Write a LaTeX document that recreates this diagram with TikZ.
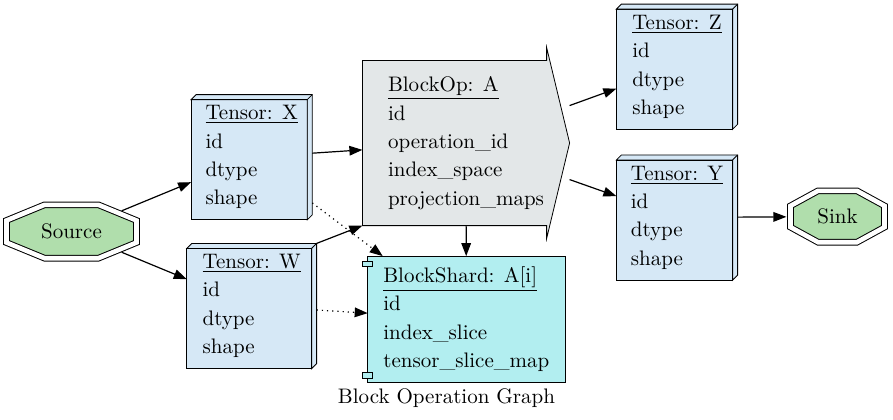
\documentclass[tikz,border=0pt]{standalone}
\usetikzlibrary{shapes.geometric,arrows.meta,positioning,backgrounds}
\definecolor{tensorblue}{RGB}{214,232,246}
\definecolor{opgray}{RGB}{227,231,232}
\definecolor{shardcyan}{RGB}{178,238,240}
\definecolor{termgreen}{RGB}{176,222,172}
\tikzset{record/.style={rectangle,inner sep=0pt,align=left,font=\fontsize{10.5}{14.17}\selectfont},
         tensor node/.style={record,minimum width=60pt,minimum height=62pt},
         op node/.style={record,minimum width=103pt,minimum height=82pt},
         shard node/.style={record,minimum width=98pt,minimum height=62.5pt},
         end node/.style={ellipse,inner sep=0pt,font=\fontsize{10.5}{12}\selectfont},
         octagon/.style={fill=termgreen,draw,double=white,double distance=2.3pt,line width=0.5pt},
         flow/.style={->},
         link/.style={->,dotted},
         graph label/.style={font=\fontsize{10.5}{12}\selectfont}
}

\begin{document}
\begin{tikzpicture}[x=0.5pt,y=-0.5pt,>={Triangle[length=6.5pt,width=4.8pt]},line width=0.6pt]
\useasboundingbox (0,0) rectangle (893,419);

\node[end node,minimum width=68.5pt,minimum height=29.5pt] (src) at (71.5,231.5) {Source};
\node[tensor node] (X) at (251.7,157.2) {\underline{Tensor: X}\\id\\dtype\\shape};
\node[tensor node,minimum width=64.3pt] (W) at (251.7,306) {\underline{Tensor: W}\\id\\dtype\\shape};
\node[op node] (A) at (466,143) {\underline{BlockOp: A}\\id\\operation\_id\\index\_space\\projection\_maps};
\node[shard node] (shard) at (466.3,319.2) {\underline{BlockShard: A[i]}\\id\\index\_slice\\tensor\_slice\_map};
\node[tensor node] (Z) at (677,66.7) {\underline{Tensor: Z}\\id\\dtype\\shape};
\node[tensor node] (Y) at (677,217.5) {\underline{Tensor: Y}\\id\\dtype\\shape};
\node[end node,minimum width=50.5pt,minimum height=28.5pt] (sink) at (837.5,216.5) {Sink};
\node[graph label,anchor=base] (title) at (446.5,403) {Block Operation Graph};

% shapes behind the labels
\begin{scope}[on background layer]
\foreach \n/\w/\h in {src/65/26.7,sink/47/25.7}
  \draw[octagon] ([shift={({-0.414*\w},-\h)}]\n.center) -- ([shift={({0.414*\w},-\h)}]\n.center)
    -- ([shift={(\w,{-0.414*\h})}]\n.center) -- ([shift={(\w,{0.414*\h})}]\n.center)
    -- ([shift={({0.414*\w},\h)}]\n.center) -- ([shift={({-0.414*\w},\h)}]\n.center)
    -- ([shift={(-\w,{0.414*\h})}]\n.center) -- ([shift={(-\w,{-0.414*\h})}]\n.center) -- cycle;
\foreach \t in {X,W,Z,Y}{
  \draw[fill=tensorblue] (\t.south west) rectangle ([shift={(-5,5)}]\t.north east);
  \draw[fill=tensorblue] ([shift={(0,5)}]\t.north west) -- ([shift={(5,0)}]\t.north west) -- (\t.north east)
    -- ([shift={(0,-5)}]\t.south east) -- ([shift={(-5,0)}]\t.south east) -- ([shift={(-5,5)}]\t.north east) -- cycle;
  \draw ([shift={(-5,5)}]\t.north east) -- (\t.north east);
}
\draw[fill=opgray] (A.north west) -- ([shift={(-23,0)}]A.north east) -- ([shift={(-23,-13)}]A.north east) -- (A.east)
  -- ([shift={(-23,13)}]A.south east) -- ([shift={(-23,0)}]A.south east) -- (A.south west) -- cycle;
\draw[fill=shardcyan] (shard.south west) rectangle (shard.north east);
\draw[fill=shardcyan] ([shift={(-5,5)}]shard.north west) rectangle ([shift={(5,10.6)}]shard.north west);
\draw[fill=shardcyan] ([shift={(-5,-10)}]shard.south west) rectangle ([shift={(5,-4.4)}]shard.south west);
\end{scope}

\draw[flow] (src) -- (X);
\draw[flow] (src) -- (W);
\draw[flow] (X) -- (A);
\draw[flow] (W.north east) -- (A.south west);
\draw[link] (X) -- (shard);
\draw[link] (W) -- (shard);
\draw[flow] (A) -- (shard);
\draw[flow] (A) -- (Z);
\draw[flow] (A) -- (Y);
\draw[flow] (Y) -- (sink);
\end{tikzpicture}
\end{document}
